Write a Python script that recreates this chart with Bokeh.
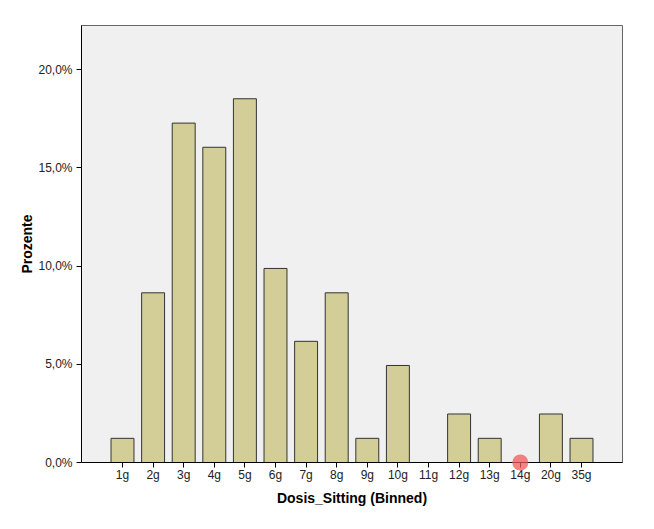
from bokeh.plotting import figure
from bokeh.models import FactorRange, Range1d, FixedTicker, CustomJSTickFormatter, ColumnDataSource
from bokeh.embed import file_html
from bokeh.resources import INLINE

# data
categories = ["1g", "2g", "3g", "4g", "5g", "6g", "7g", "8g", "9g", "10g",
              "11g", "12g", "13g", "14g", "20g", "35g"]
percent = [1.23, 8.64, 17.28, 16.05, 18.52, 9.88, 6.17, 8.64, 1.23, 4.94,
           0.0, 2.47, 1.23, 0.0, 2.47, 1.23]
y_ticks = [0, 5, 10, 15, 20]
marker_cat = ["14g"]
marker_val = [0.0]

FONT = "Liberation Sans"

p = figure(
    x_range=FactorRange(*categories, range_padding=0.84, range_padding_units="absolute"),
    y_range=Range1d(0, 22.25),
    width=646, height=521,
    output_backend="svg", toolbar_location=None,
    min_border_left=81, min_border_right=24, min_border_top=25, min_border_bottom=59,
)
p.border_fill_color = "white"
p.background_fill_color = "#f0f0f0"
p.outline_line_color = "#666666"
p.outline_line_width = 1
p.xgrid.visible = False
p.ygrid.visible = False

src = ColumnDataSource(dict(cat=categories, val=percent))
p.vbar(x="cat", top="val", bottom=0, width=0.75, source=src,
       fill_color="#d3ce98", line_color="#333333", line_width=1)

p.scatter(x=marker_cat, y=marker_val, size=16, fill_color="#f05a5a",
          fill_alpha=0.75, line_color=None, level="overlay")

# y axis
ya = p.yaxis[0]
ya.ticker = FixedTicker(ticks=y_ticks)
ya.formatter = CustomJSTickFormatter(code="return tick.toFixed(1).replace('.', ',') + '%';")
ya.axis_label = "Prozente"
ya.axis_label_text_font = FONT
ya.axis_label_text_font_style = "bold"
ya.axis_label_text_font_size = "14px"
ya.axis_label_text_color = "black"
ya.axis_label_standoff = 0
ya.major_label_text_font = FONT
ya.major_label_text_font_size = "12px"
ya.major_label_text_color = "#222222"
ya.major_label_standoff = 4
ya.major_tick_out = 5
ya.major_tick_in = 0
ya.minor_tick_out = 0
ya.minor_tick_in = 0
ya.axis_line_color = "black"
ya.major_tick_line_color = "black"

# x axis
xa = p.xaxis[0]
xa.axis_label = "Dosis_Sitting (Binned)"
xa.axis_label_text_font = FONT
xa.axis_label_text_font_style = "bold"
xa.axis_label_text_font_size = "14px"
xa.axis_label_text_color = "black"
xa.axis_label_standoff = 5
xa.major_label_text_font = FONT
xa.major_label_text_font_size = "12px"
xa.major_label_text_color = "#222222"
xa.major_label_standoff = 0
xa.major_tick_out = 5
xa.major_tick_in = 0
xa.axis_line_color = "black"
xa.major_tick_line_color = "black"

open("out.html", "w").write(file_html(p, INLINE))
